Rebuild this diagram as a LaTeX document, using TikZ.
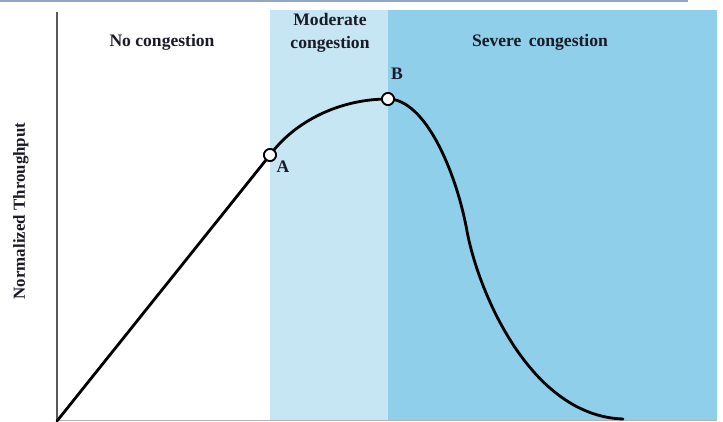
\documentclass[tikz,border=0pt]{standalone}
\usepackage{fontspec}
\setmainfont{Liberation Serif}
\usetikzlibrary{calc}
\definecolor{moderateblue}{HTML}{C5E6F2}
\definecolor{severeblue}{HTML}{8FCFEA}
\definecolor{topline}{HTML}{8FA6C4}
\definecolor{labelink}{HTML}{1A1A28}

\begin{document}
\begin{tikzpicture}[x=0.025cm, y=0.025cm,
	zonelabel/.style={font=\bfseries\fontsize{12.5}{14}\selectfont, text=labelink, align=center},
	pointmark/.style={circle, draw=black, fill=white, line width=1.2pt, minimum size=0.3cm, inner sep=0pt},
	curveline/.style={line width=2pt, line cap=round}]
		%%%%% START %%%%%
		\useasboundingbox (0, 0) rectangle (723, 421);
		\draw[topline, line width=2pt] (0, 420) -- (688, 420);
		
		\fill[moderateblue] (270, 0) rectangle (388, 411);
		\fill[severeblue] (388, 0) rectangle (717, 411);
		
		\draw[black!65, line width=1.2pt] (57, 0) -- (57, 409);
		\draw[black!30, line width=0.8pt] (57, 0.5) -- (717, 0.5);
		
		\node[zonelabel] (nolabel) at (162, 379) {No congestion};
		\node[zonelabel] (modlabel) at (330, 388) {Moderate\\[2pt]congestion};
		\node[zonelabel] (sevlabel) at (540, 379) {Severe\, congestion};
		\node[zonelabel, rotate=90, font=\bfseries\fontsize{12}{14}\selectfont] (ylabel) at (21, 210) {Normalized Throughput};
		
		\coordinate (origin) at (57, 0);
		\coordinate (bend) at (467, 190);
		\coordinate (tail) at (623, 2);
		\node[pointmark] (A) at (270, 266) {};
		\node[pointmark] (B) at (388, 322) {};
		
		\draw[curveline] (origin) -- (A.center);
		\draw[curveline] (A.center) .. controls (295, 300) and (340, 322) .. (B.center);
		\draw[curveline] (B.center) .. controls (425, 322) and (456, 250) .. (bend)
			.. controls (478, 130) and (530, 5) .. (tail);
		\node[pointmark] at (A) {};
		\node[pointmark] at (B) {};
		
		\node[zonelabel] (Alabel) at (283, 254) {A};
		\node[zonelabel] (Blabel) at (397, 347) {B};
		%%%%% END %%%%%
\end{tikzpicture}
\end{document}
